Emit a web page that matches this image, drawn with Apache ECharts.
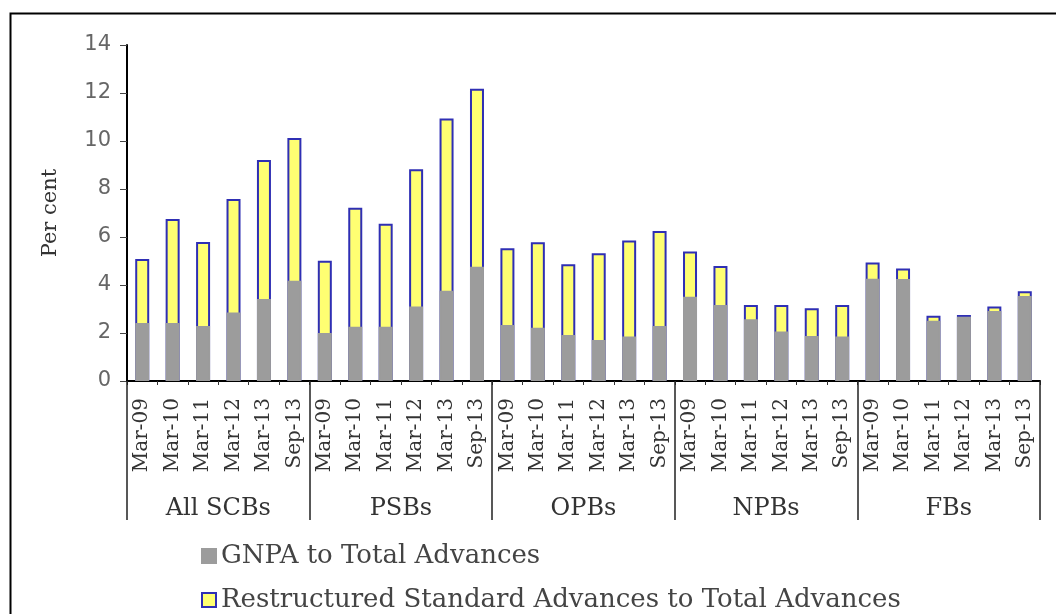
<!DOCTYPE html>
<html>
<head>
<meta charset="utf-8">
<script src="https://cdn.jsdelivr.net/npm/echarts@6/dist/echarts.min.js"></script>
<style>
html,body{margin:0;padding:0;background:#fff;}
#chart{width:1056px;height:614px;}
</style>
</head>
<body>
<div id="chart"></div>
<script>
// ---- data ----
const periods = ["Mar-09","Mar-10","Mar-11","Mar-12","Mar-13","Sep-13"];
const groups = ["All SCBs","PSBs","OPBs","NPBs","FBs"];
const gnpa = [
  2.42, 2.42, 2.29, 2.85, 3.42, 4.18,
  2.00, 2.26, 2.26, 3.10, 3.76, 4.76,
  2.33, 2.22, 1.92, 1.71, 1.85, 2.29,
  3.51, 3.17, 2.57, 2.06, 1.87, 1.85,
  4.26, 4.25, 2.51, 2.68, 2.92, 3.54
];
const restructured = [
  2.66, 4.33, 3.50, 4.73, 5.79, 5.94,
  3.01, 4.96, 4.29, 5.72, 7.18, 7.42,
  3.20, 3.56, 2.94, 3.61, 4.00, 3.96,
  1.89, 1.62, 0.60, 1.11, 1.16, 1.32,
  0.68, 0.44, 0.21, 0.07, 0.18, 0.20
];
const yTicks = {min: 0, max: 14, interval: 2};
const seriesNames = ["GNPA to Total Advances", "Restructured Standard Advances to Total Advances"];

// ---- build ----
const categories = [];
groups.forEach(g => periods.forEach(p => categories.push(p)));
const totals = gnpa.map((v, i) => +(v + restructured[i]).toFixed(2));

const GRAY = '#9c9c9c', YELLOW = '#ffff72', BLUE = '#2f2fb4';
const serif = 'DejaVu Serif';
const legendText = {fontFamily: serif, fontSize: 26, color: '#444'};

const chart = echarts.init(document.getElementById('chart'), null, {renderer: 'canvas'});
chart.setOption({
  animation: false,
  backgroundColor: '#fff',
  graphic: [{
    type: 'rect', left: 8, top: 11, silent: true,
    shape: {x: 0, y: 0, width: 1100, height: 700},
    style: {fill: 'none', stroke: '#000', lineWidth: 2}
  }],
  grid: {left: 127, right: 16, top: 45, bottom: 233, containLabel: false},
  legend: [{
    orient: 'horizontal', left: 196, top: 538,
    data: [seriesNames[0]], icon: 'rect',
    itemWidth: 14, itemHeight: 14, itemGap: 8,
    textStyle: legendText
  }, {
    orient: 'horizontal', left: 196, top: 582,
    data: [seriesNames[1]], icon: 'rect',
    itemWidth: 14, itemHeight: 14, itemGap: 8,
    textStyle: legendText
  }],
  xAxis: [{
    type: 'category', data: categories, position: 'bottom',
    axisLine: {lineStyle: {color: '#000', width: 2}},
    axisTick: {show: true, interval: 0, length: 4, lineStyle: {color: '#333', width: 1}},
    axisLabel: {interval: 0, rotate: 90, margin: 17, fontFamily: serif, fontSize: 20, color: '#333'}
  }, {
    type: 'category', data: groups, position: 'bottom', offset: 0,
    axisLine: {show: false},
    axisTick: {show: true, interval: 0, length: 139, lineStyle: {color: '#222', width: 1.5}},
    axisLabel: {interval: 0, margin: 116, fontFamily: serif, fontSize: 24, color: '#333'}
  }],
  yAxis: {
    type: 'value', min: yTicks.min, max: yTicks.max, interval: yTicks.interval,
    name: 'Per cent', nameLocation: 'middle', nameGap: 66, nameRotate: 90,
    nameTextStyle: {fontFamily: serif, fontSize: 21, color: '#333'},
    axisLine: {show: true, lineStyle: {color: '#000', width: 2}},
    axisTick: {show: true, length: 7, lineStyle: {color: '#444'}},
    axisLabel: {fontFamily: 'DejaVu Sans', fontSize: 21, color: '#666', margin: 16},
    splitLine: {show: false}
  },
  series: [{
    name: seriesNames[1], type: 'bar', xAxisIndex: 0, barWidth: 14, z: 2,
    data: totals,
    itemStyle: {color: YELLOW, borderColor: BLUE, borderWidth: 2}
  }, {
    name: seriesNames[0], type: 'bar', xAxisIndex: 0, barWidth: 14, barGap: '-100%', z: 3,
    data: gnpa,
    itemStyle: {color: GRAY, borderColor: GRAY, borderWidth: 2}
  }]
});
</script>
</body>
</html>
